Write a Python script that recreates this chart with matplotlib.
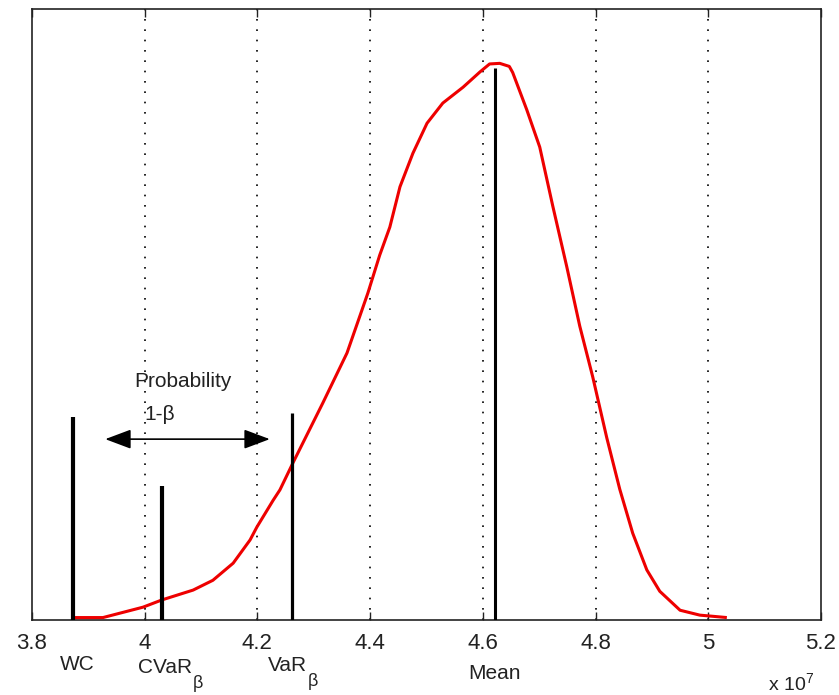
import matplotlib
matplotlib.use("Agg")
import matplotlib.pyplot as plt
from matplotlib.transforms import blended_transform_factory

plt.rcParams['font.family'] = ['Liberation Sans', 'DejaVu Sans']
plt.rcParams['mathtext.fontset'] = 'custom'
plt.rcParams['mathtext.rm'] = 'Liberation Sans'
plt.rcParams['mathtext.it'] = 'Liberation Sans'

# Density curve (x in units of 1e7)
curve_x = [3.871, 3.926, 3.997, 4.031, 4.086, 4.121, 4.157, 4.187, 4.199, 4.228,
           4.240, 4.263, 4.316, 4.359, 4.396, 4.417, 4.435, 4.453, 4.476, 4.501,
           4.529, 4.565, 4.595, 4.612, 4.630, 4.647, 4.653, 4.678, 4.701, 4.724,
           4.749, 4.772, 4.795, 4.820, 4.843, 4.866, 4.891, 4.914, 4.950, 4.985,
           5.033]
curve_y = [0.004, 0.004, 0.021, 0.033, 0.049, 0.065, 0.093, 0.131, 0.152, 0.196,
           0.213, 0.257, 0.355, 0.437, 0.535, 0.597, 0.643, 0.709, 0.764, 0.813,
           0.846, 0.872, 0.897, 0.910, 0.911, 0.906, 0.896, 0.835, 0.774, 0.678,
           0.578, 0.481, 0.398, 0.298, 0.214, 0.142, 0.082, 0.047, 0.016, 0.008,
           0.004]

# Risk measure markers
marker_base = ['WC', 'CVaR', 'VaR', 'Mean']
marker_sub = ['', 'β', 'β', '']
marker_x = [3.872, 4.031, 4.261, 4.6215]
marker_h = [0.332, 0.219, 0.339, 0.903]
marker_lw = [3.0, 3.0, 2.3, 2.2]
label_left = [3.850, 3.988, 4.219, 4.575]
label_y = [-0.073, -0.077, -0.074, -0.088]

xticks = [3.8, 4.0, 4.2, 4.4, 4.6, 4.8, 5.0, 5.2]
xticklabels = ['3.8', '4', '4.2', '4.4', '4.6', '4.8', '5', '5.2']

arrow_x = [3.930, 4.222]
arrow_y = 0.296

fig = plt.figure(figsize=(8.39, 6.95), dpi=100)
ax = fig.add_axes([0.0381, 0.1079, 0.9404, 0.8792])

for xt in xticks[1:-1]:
    ax.axvline(xt, color='k', lw=1.2, linestyle=(0, (1, 5.2)), zorder=1)

ax.plot(curve_x, curve_y, color='#ee0000', lw=2.2, zorder=3,
        solid_capstyle='butt', solid_joinstyle='round')

for x, h, lw in zip(marker_x, marker_h, marker_lw):
    ax.plot([x, x], [0, h], color='k', lw=lw, zorder=4, solid_capstyle='butt')

ax.annotate('', xy=(arrow_x[1], arrow_y), xytext=(arrow_x[0], arrow_y),
            arrowprops=dict(arrowstyle='<|-|>,head_length=0.8,head_width=0.3',
                            color='k', lw=1.2, mutation_scale=20,
                            shrinkA=0, shrinkB=0), zorder=5)
ax.text(4.068, 0.390, 'Probability', ha='center', va='center', fontsize=15,
        color='#222222')
ax.text(4.027, 0.336, '1-β', ha='center', va='center', fontsize=15,
        color='#222222')

trans = blended_transform_factory(ax.transData, ax.transAxes)
for base, sub, lx, ly in zip(marker_base, marker_sub, label_left, label_y):
    t = ax.text(lx, ly, base, ha='left', va='center', fontsize=15,
                transform=trans, color='#222222')
    if sub:
        ax.annotate(sub, xy=(1.0, 0.0), xycoords=t, xytext=(0.5, -5),
                    textcoords='offset points', ha='left', va='center',
                    fontsize=13, color='#222222')

fig.text(0.943, 0.017, 'x 10$^{7}$', ha='center', va='center', fontsize=14,
         color='#222222')

ax.set_xlim(3.8, 5.2)
ax.set_ylim(0, 1)
ax.set_xticks(xticks)
ax.set_xticklabels(xticklabels)
ax.set_yticks([])
ax.tick_params(axis='x', direction='in', length=6, width=1.0, top=True,
               labelsize=16, pad=9, colors='#222222')
for s in ax.spines.values():
    s.set_linewidth(1.2)
    s.set_color('#222222')

fig.savefig('out.png', dpi=100)
